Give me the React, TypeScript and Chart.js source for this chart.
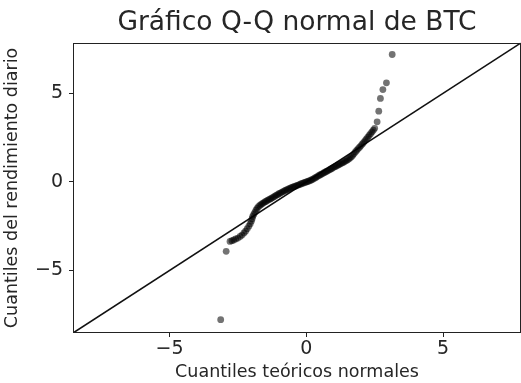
import React, { useEffect, useRef } from "react";
import { Chart, registerables } from "chart.js";

Chart.register(...registerables);

const chartTitle = "Gráfico Q-Q normal de BTC";
const xAxisTitle = "Cuantiles teóricos normales";
const yAxisTitle = "Cuantiles del rendimiento diario";

const tickValues = [-5, 0, 5];
const axisMin = -8.53;
const axisMax = 7.85;

// theoretical normal quantiles (x) and sample quantiles (y)
const theoreticalQ = [
  -3.13, -2.93, -2.79, -2.72, -2.65, -2.58, -2.5, -2.42, -2.35, -2.28, -2.22, -2.16, -2.1, -2.05, -2.01, -1.98,
  -1.96, -1.92, -1.88, -1.84, -1.8, -1.75, -1.7, -1.65, -1.6, -1.55, -1.5, -1.45, -1.4, -1.35, -1.3, -1.25,
  -1.2, -1.15, -1.1, -1.05, -1.0, -0.95, -0.9, -0.85, -0.8, -0.75, -0.7, -0.65, -0.6, -0.55, -0.5, -0.45,
  -0.4, -0.35, -0.3, -0.25, -0.2, -0.15, -0.1, -0.05, 0.0, 0.05, 0.1, 0.15, 0.2, 0.25, 0.3, 0.35, 0.4,
  0.45, 0.5, 0.55, 0.6, 0.65, 0.7, 0.75, 0.8, 0.85, 0.9, 0.95, 1.0, 1.05, 1.1, 1.15, 1.2, 1.25, 1.3,
  1.35, 1.4, 1.45, 1.5, 1.55, 1.6, 1.65, 1.7, 1.75, 1.8, 1.85, 1.9, 1.95, 2.0, 2.05, 2.1, 2.15, 2.2,
  2.25, 2.3, 2.35, 2.4, 2.45, 2.5, 2.59, 2.65, 2.71, 2.8, 2.93, 3.14,
];
const sampleQ = [
  -7.78, -3.92, -3.36, -3.32, -3.28, -3.22, -3.17, -3.08, -3.0, -2.88, -2.78, -2.64, -2.5, -2.36, -2.22, -2.08,
  -1.95, -1.84, -1.72, -1.6, -1.5, -1.4, -1.33, -1.27, -1.22, -1.17, -1.12, -1.08, -1.03, -0.99, -0.95, -0.9,
  -0.86, -0.81, -0.76, -0.72, -0.67, -0.63, -0.59, -0.55, -0.51, -0.47, -0.44, -0.4, -0.37, -0.33, -0.3, -0.27,
  -0.24, -0.21, -0.18, -0.15, -0.12, -0.09, -0.06, -0.03, 0.0, 0.02, 0.05, 0.08, 0.12, 0.16, 0.21, 0.25, 0.3,
  0.35, 0.39, 0.43, 0.47, 0.52, 0.56, 0.6, 0.64, 0.69, 0.73, 0.77, 0.82, 0.86, 0.9, 0.94, 0.98, 1.02, 1.06,
  1.1, 1.15, 1.19, 1.24, 1.29, 1.35, 1.42, 1.5, 1.6, 1.7, 1.79, 1.88, 1.96, 2.05, 2.14, 2.23, 2.33, 2.43,
  2.52, 2.62, 2.72, 2.82, 2.92, 3.02, 3.39, 3.99, 4.71, 5.21, 5.59, 7.19,
];

// reference line y = x across the axes
const refLineX = [axisMin, axisMax];
const refLineY = [axisMin, axisMax];

const FONT = "'DejaVu Sans', sans-serif";
const TEXT = "#262626";

const frame = {
  id: "frame",
  afterDatasetsDraw(chart: any) {
    const { ctx, chartArea } = chart;
    ctx.save();
    ctx.strokeStyle = "#222";
    ctx.lineWidth = 1;
    ctx.strokeRect(
      Math.round(chartArea.left) + 0.5,
      Math.round(chartArea.top) + 0.5,
      Math.round(chartArea.right - chartArea.left) - 1,
      Math.round(chartArea.bottom - chartArea.top) - 1
    );
    ctx.restore();
  },
};

export default function App() {
  const ref = useRef<HTMLCanvasElement | null>(null);
  useEffect(() => {
    document.body.style.margin = "0";
    const points = theoreticalQ.map((x, i) => ({ x, y: sampleQ[i] }));
    const line = refLineX.map((x, i) => ({ x, y: refLineY[i] }));
    const fmt = (v: any) => (Number(v) < 0 ? "\u2212" + Math.abs(Number(v)) : String(v));
    const chart = new Chart(ref.current as HTMLCanvasElement, {
      type: "scatter",
      data: {
        datasets: [
          {
            data: points,
            backgroundColor: "rgba(0,0,0,0.55)",
            borderWidth: 0,
            pointRadius: 3.4,
          },
          {
            data: line,
            showLine: true,
            borderColor: "#111",
            borderWidth: 1.6,
            pointRadius: 0,
            fill: false,
          } as any,
        ],
      },
      plugins: [frame],
      options: {
        animation: false,
        responsive: false,
        layout: { padding: 0, autoPadding: false },
        plugins: {
          legend: { display: false },
          tooltip: { enabled: false },
          title: {
            display: true,
            fullSize: false,
            text: chartTitle,
            color: TEXT,
            font: { family: FONT, size: 26.5, weight: "normal" },
            padding: { top: 7, bottom: 4 },
          },
        },
        scales: {
          x: {
            type: "linear",
            min: axisMin,
            max: axisMax,
            afterBuildTicks: (s: any) => {
              s.ticks = tickValues.map((v) => ({ value: v }));
            },
            afterFit: (s: any) => {
              s.height = 50;
            },
            grid: { drawOnChartArea: false, tickLength: 4, tickColor: "#222", tickWidth: 1 },
            border: { display: false },
            ticks: {
              color: TEXT,
              font: { family: FONT, size: 19 },
              padding: 1,
              maxRotation: 0,
              callback: fmt,
            },
            title: {
              display: true,
              text: xAxisTitle,
              color: TEXT,
              font: { family: FONT, size: 17.5 },
              padding: { top: 0, bottom: 0 },
            },
          },
          y: {
            type: "linear",
            min: axisMin,
            max: axisMax,
            afterBuildTicks: (s: any) => {
              s.ticks = tickValues.map((v) => ({ value: v }));
            },
            afterFit: (s: any) => {
              s.width = 73;
            },
            grid: { drawOnChartArea: false, tickLength: 4, tickColor: "#222", tickWidth: 1 },
            border: { display: false },
            ticks: {
              color: TEXT,
              font: { family: FONT, size: 19 },
              padding: 6,
              callback: fmt,
            },
            title: {
              display: true,
              text: yAxisTitle,
              color: TEXT,
              font: { family: FONT, size: 17.5 },
              padding: { top: 2, bottom: 0 },
            },
          },
        },
      },
    } as any);
    return () => chart.destroy();
  }, []);
  return (
    <div style={{ width: 521, height: 383, background: "#fff" }}>
      <canvas ref={ref} width={521} height={383} style={{ display: "block" }} />
    </div>
  );
}
